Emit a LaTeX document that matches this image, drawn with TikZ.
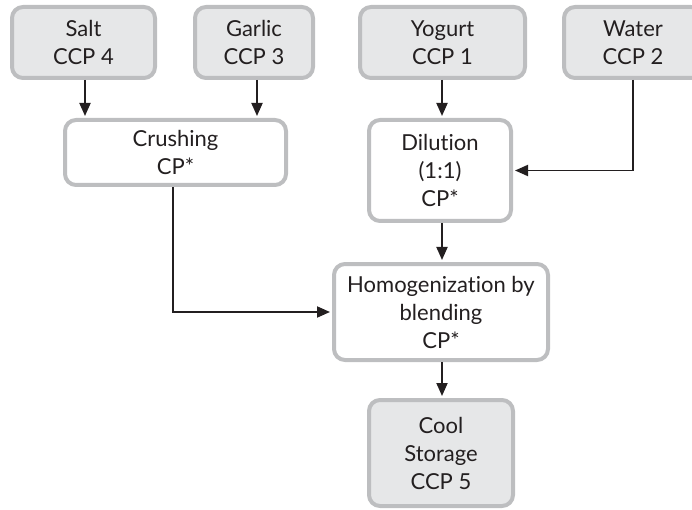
\documentclass[tikz,border=0pt]{standalone}
\usepackage{fontspec}
\setmainfont{Lato}[Ligatures=NoCommon]
\usetikzlibrary{arrows.meta}
\definecolor{boxedge}{HTML}{BDBEC0}
\definecolor{ccpfill}{HTML}{E6E7E8}
\definecolor{ink}{HTML}{231F20}
\begin{document}
\begin{tikzpicture}[x=1pt,y=-1pt,
  stepbase/.style={draw=boxedge, line width=4pt, rounded corners=11pt,
    inner sep=0pt, align=center, text=ink,
    font=\fontsize{22}{28}\selectfont},
  ccp/.style={stepbase, fill=ccpfill},
  proc/.style={stepbase, fill=white},
  flow/.style={line width=1.9pt, draw=ink,
    -{Triangle[length=13pt,width=11pt]}, shorten >=2pt}]
\useasboundingbox (0,0) rectangle (692,510);
\begin{scope}
\clip (0,0) rectangle (692,510);
% raw materials (critical control points)
\node[ccp, minimum width=143pt, minimum height=71pt] (salt)   at (83.5,42.5)  {Salt\\CCP 4};
\node[ccp, minimum width=118pt, minimum height=71pt] (garlic) at (254,42.5)   {Garlic\\CCP 3};
\node[ccp, minimum width=165pt, minimum height=71pt] (yogurt) at (442.5,42.5) {Yogurt\\CCP 1};
\node[ccp, minimum width=138pt, minimum height=71pt] (water)  at (633,42.5)   {Water\\CCP 2};
% processing steps (control points)
\node[proc, minimum width=221pt, minimum height=65pt]  (crush) at (175.5,152.5) {Crushing\\CP*};
\node[proc, minimum width=142pt, minimum height=101pt] (dilut) at (440,170.5)   {Dilution\\(1:1)\\CP*};
\node[proc, minimum width=214pt, minimum height=96pt]  (homog) at (441,312)     {Homogenization by\\blending\\CP*};
\node[ccp,  minimum width=144pt, minimum height=106pt] (cool)  at (441,453)     {Cool\\Storage\\CCP 5};
\end{scope}
% connectors
\coordinate (saltx) at (85,0);
\coordinate (garlicx) at (257,0);
\coordinate (midx) at (442,0);
\coordinate (crushx) at (173,0);
\draw[flow] (salt.south -| saltx) -- (crush.north -| saltx);
\draw[flow] (garlic.south -| garlicx) -- (crush.north -| garlicx);
\draw[flow] (yogurt.south -| midx) -- (dilut.north -| midx);
\draw[flow] (water.south) |- (dilut.east);
\draw[flow] (dilut.south -| midx) -- (homog.north -| midx);
\draw[flow] (crush.south -| crushx) |- (homog.west);
\draw[flow] (homog.south -| midx) -- (cool.north -| midx);
\end{tikzpicture}
\end{document}
